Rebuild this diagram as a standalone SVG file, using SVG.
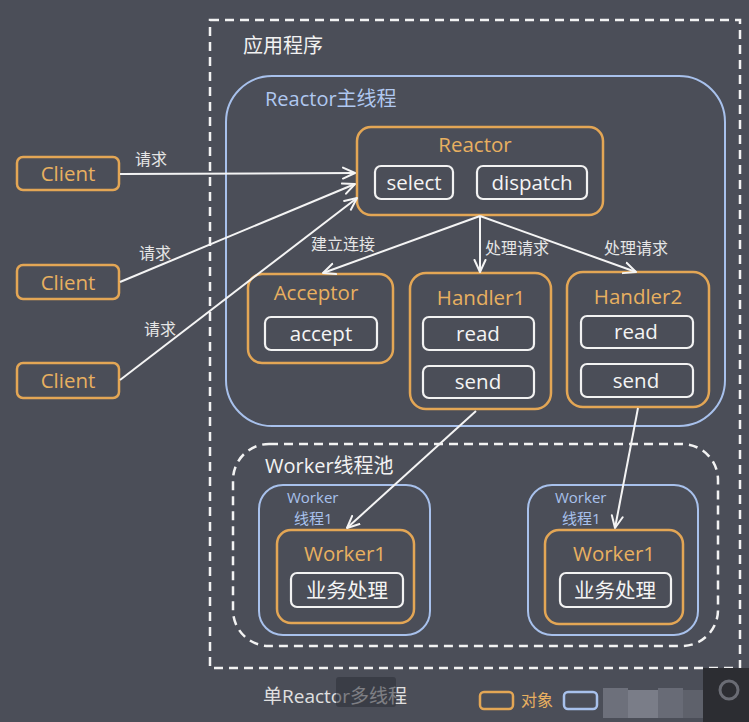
<svg xmlns="http://www.w3.org/2000/svg" width="749" height="722" viewBox="0 0 749 722">
<defs>
<marker id="ah" viewBox="0 0 14 14" refX="13" refY="7" markerWidth="14" markerHeight="14" markerUnits="userSpaceOnUse" orient="auto">
<path d="M1,1.5 L13,7 L1,12.5" fill="none" stroke="#f4f4f4" stroke-width="2" stroke-linecap="round" stroke-linejoin="round"/>
</marker>
<style>
text{font-family:"Open Sans","Noto Sans CJK SC",sans-serif;}
.org{fill:none;stroke:#e3a655;stroke-width:2.5;}
.blu{fill:none;stroke:#a8c1ec;stroke-width:2;}
.wht{fill:none;stroke:#f2f2f2;stroke-width:2.2;}
.dash{fill:none;stroke:#f2f2f2;stroke-width:2.5;stroke-dasharray:9 6;}
.ot{fill:#e8b060;font-size:20.5px;text-anchor:middle;}
.wt{fill:#f4f4f4;font-size:20.5px;text-anchor:middle;}
.lbl{fill:#e6e6e6;font-size:16px;}
.wk{fill:#a8c1ec;font-size:15px;}
.conn line{stroke:#f4f4f4;stroke-width:2;fill:none;marker-end:url(#ah);}
</style>
</defs>
<rect width="749" height="722" fill="#4b4e58"/>

<g id="app">
<rect class="dash" x="210" y="20" width="530" height="648"/>
<text x="243" y="53" fill="#f2f2f2" font-size="20">应用程序</text>
</g>

<g id="reactor-thread">
<rect class="blu" x="226" y="76" width="499" height="350" rx="46"/>
<text x="265" y="106" fill="#b0c8f0" font-size="20">Reactor主线程</text>
</g>

<g id="client1"><rect class="org" x="17" y="157" width="102" height="33" rx="6"/><text class="ot" x="68" y="181">Client</text></g>
<g id="client2"><rect class="org" x="17" y="265" width="102" height="34" rx="6"/><text class="ot" x="68" y="290">Client</text></g>
<g id="client3"><rect class="org" x="17" y="363" width="102" height="35" rx="6"/><text class="ot" x="68" y="388">Client</text></g>

<g id="reactor">
<rect class="org" x="357" y="127" width="246" height="88" rx="14"/>
<text class="ot" x="475" y="152">Reactor</text>
<rect class="wht" x="375" y="166" width="78" height="33" rx="6"/>
<text class="wt" x="414" y="190">select</text>
<rect class="wht" x="477" y="166" width="110" height="33" rx="6"/>
<text class="wt" x="532" y="190">dispatch</text>
</g>

<g id="acceptor">
<rect class="org" x="248" y="274" width="145" height="89" rx="14"/>
<text class="ot" x="316" y="300">Acceptor</text>
<rect class="wht" x="265" y="317" width="112" height="33" rx="6"/>
<text class="wt" x="321" y="341">accept</text>
</g>

<g id="handler1">
<rect class="org" x="410" y="273" width="141" height="136" rx="16"/>
<text class="ot" x="481" y="305">Handler1</text>
<rect class="wht" x="423" y="317" width="111" height="33" rx="6"/>
<text class="wt" x="478" y="341">read</text>
<rect class="wht" x="423" y="366" width="111" height="32" rx="6"/>
<text class="wt" x="478" y="389">send</text>
</g>

<g id="handler2">
<rect class="org" x="567" y="272" width="142" height="135" rx="16"/>
<text class="ot" x="638" y="304">Handler2</text>
<rect class="wht" x="581" y="316" width="112" height="32" rx="6"/>
<text class="wt" x="636" y="339">read</text>
<rect class="wht" x="581" y="364" width="112" height="33" rx="6"/>
<text class="wt" x="636" y="388">send</text>
</g>

<g id="worker-pool">
<rect class="dash" x="233" y="444" width="485" height="202" rx="36"/>
<text x="265" y="473" fill="#f2f2f2" font-size="20">Worker线程池</text>
</g>

<g id="worker-thread1">
<rect class="blu" x="259" y="485" width="171" height="150" rx="24"/>
<text class="wk" x="287" y="503">Worker</text>
<text class="wk" x="294" y="524">线程1</text>
<rect class="org" x="277" y="530" width="137" height="93" rx="14"/>
<text class="ot" x="345" y="561">Worker1</text>
<rect class="wht" x="291" y="573" width="112" height="34" rx="6"/>
<text class="wt" x="347" y="598">业务处理</text>
</g>

<g id="worker-thread2">
<rect class="blu" x="528" y="485" width="170" height="150" rx="24"/>
<text class="wk" x="555" y="503">Worker</text>
<text class="wk" x="562" y="524">线程1</text>
<rect class="org" x="545" y="530" width="138" height="94" rx="14"/>
<text class="ot" x="614" y="561">Worker1</text>
<rect class="wht" x="560" y="573" width="111" height="34" rx="6"/>
<text class="wt" x="615" y="598">业务处理</text>
</g>

<g class="conn" id="connectors">
<line x1="120" y1="174" x2="355" y2="173"/>
<line x1="120" y1="282" x2="355" y2="184"/>
<line x1="120" y1="380" x2="357" y2="198"/>
<line x1="480" y1="216" x2="323" y2="273"/>
<line x1="480" y1="216" x2="480" y2="272"/>
<line x1="480" y1="216" x2="636" y2="272"/>
<line x1="476" y1="411" x2="347" y2="528"/>
<line x1="638" y1="408" x2="615" y2="528"/>
</g>

<g id="labels">
<text class="lbl" x="135" y="165">请求</text>
<text class="lbl" x="139" y="259">请求</text>
<text class="lbl" x="144" y="335">请求</text>
<text class="lbl" x="311" y="250">建立连接</text>
<text class="lbl" x="485" y="254">处理请求</text>
<text class="lbl" x="604" y="254">处理请求</text>
</g>

<g id="footer">
<text x="263" y="703" fill="#e0e0e0" font-size="19">单Reactor多线程</text>
<rect x="336" y="677" width="60" height="30" rx="3" fill="#2e3038" opacity="0.55"/>
<rect x="480" y="692" width="33" height="17" rx="4" fill="none" stroke="#e3a655" stroke-width="2.5"/>
<text x="521" y="706" fill="#e8b060" font-size="16">对象</text>
<rect x="564" y="692" width="33" height="17" rx="4" fill="none" stroke="#a8c1ec" stroke-width="2.5"/>
<rect x="603" y="688" width="25" height="30" fill="#6d707b"/>
<rect x="628" y="690" width="30" height="28" fill="#7a7d88"/>
<rect x="658" y="688" width="25" height="30" fill="#686b76"/>
<rect x="683" y="690" width="20" height="28" fill="#5e616b"/>
<rect x="703" y="668" width="46" height="54" fill="#2c2d32"/>
<circle cx="729" cy="690" r="9" fill="none" stroke="#6a6c74" stroke-width="3"/>
</g>
</svg>
